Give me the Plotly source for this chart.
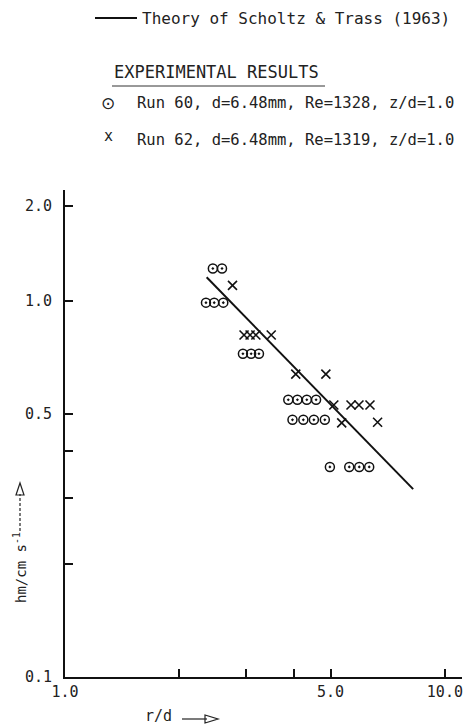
import plotly.graph_objects as go

# ---------------- data ----------------
run60_x = [2.45, 2.59,
           2.35, 2.47, 2.61,
           2.94, 3.09, 3.24,
           3.87, 4.09, 4.33, 4.58,
           3.97, 4.24, 4.52, 4.83,
           4.98, 5.60, 5.95, 6.32]
run60_y = [1.22, 1.22,
           0.99, 0.99, 0.99,
           0.724, 0.724, 0.724,
           0.546, 0.546, 0.546, 0.546,
           0.483, 0.483, 0.483, 0.483,
           0.362, 0.362, 0.362, 0.362]

run62_x = [2.76, 2.96, 3.07, 3.18, 3.49, 4.05, 4.86,
           5.10, 5.66, 5.94, 6.35, 5.35, 6.65]
run62_y = [1.10, 0.812, 0.812, 0.812, 0.812, 0.639, 0.639,
           0.529, 0.529, 0.529, 0.529, 0.474, 0.476]

theory_x = [2.36, 8.25]
theory_y = [1.156, 0.316]

x_tickvals = [1, 5, 10]
x_ticktext = ["1.0", "5.0", "10.0"]
x_minor_tickvals = [2, 3, 4]
y_tickvals = [1.79, 1.0, 0.5, 0.1]
y_ticktext = ["2.0", "1.0", "0.5", "0.1"]
y_minor_tickvals = [0.4, 0.3, 0.2]

# ---------------- layout helpers ----------------
W, H = 467, 727
L, R, T, B = 65, 462, 190, 677


def px(x):
    return (x - L) / (R - L)


def py(y):
    return (B - y) / (B - T)


MONO = "DejaVu Sans Mono"
INK = "#111111"

fig = go.Figure()
fig.add_trace(go.Scatter(x=theory_x, y=theory_y, mode="lines",
                         line=dict(color=INK, width=2), showlegend=False,
                         hoverinfo="skip"))
fig.add_trace(go.Scatter(x=run60_x, y=run60_y, mode="markers",
                         marker=dict(symbol="circle-open-dot", size=9,
                                     color=INK, line=dict(color=INK, width=1.5)),
                         showlegend=False))
fig.add_trace(go.Scatter(x=run62_x, y=run62_y, mode="markers",
                         marker=dict(symbol="x-thin-open", size=9,
                                     color=INK, line=dict(color=INK, width=1.6)),
                         showlegend=False))

axis_common = dict(type="log", showgrid=False, zeroline=False,
                   showline=True, linecolor=INK, linewidth=2,
                   ticks="inside", ticklen=8, tickwidth=1.5, tickcolor=INK,
                   tickfont=dict(family=MONO, size=15, color="#222222"),
                   mirror=False)

fig.update_xaxes(**axis_common, range=[0, 1.045],
                 tickmode="array", tickvals=x_tickvals, ticktext=x_ticktext,
                 minor=dict(tickmode="array", tickvals=x_minor_tickvals,
                            ticks="inside", ticklen=8, tickwidth=1.5,
                            tickcolor=INK, showgrid=False))
fig.update_yaxes(**axis_common, range=[-1, 0.2952], ticklabelstandoff=8,
                 tickmode="array", tickvals=y_tickvals, ticktext=y_ticktext,
                 minor=dict(tickmode="array", tickvals=y_minor_tickvals,
                            ticks="inside", ticklen=8, tickwidth=1.5,
                            tickcolor=INK, showgrid=False))

annotations = [
    dict(text="Theory of Scholtz & Trass (1963)", x=px(140), y=py(18),
         xanchor="left", yanchor="middle", font=dict(family=MONO, size=16)),
    dict(text="EXPERIMENTAL RESULTS", x=px(112), y=py(72),
         xanchor="left", yanchor="middle", font=dict(family=MONO, size=17)),
    dict(text="⊙", x=px(108), y=py(103), xanchor="center", yanchor="middle",
         font=dict(family="DejaVu Sans", size=17)),
    dict(text="Run 60, d=6.48mm, Re=1328, z/d=1.0", x=px(135), y=py(103),
         xanchor="left", yanchor="middle", font=dict(family=MONO, size=15.5)),
    dict(text="x", x=px(108), y=py(136), xanchor="center", yanchor="middle",
         font=dict(family=MONO, size=15)),
    dict(text="Run 62, d=6.48mm, Re=1319, z/d=1.0", x=px(135), y=py(140),
         xanchor="left", yanchor="middle", font=dict(family=MONO, size=15.5)),
    dict(text="hm/cm s<sup>-1</sup>", x=px(20), y=py(568), textangle=-90,
         xanchor="center", yanchor="middle", font=dict(family=MONO, size=14)),
    dict(text="r/d", x=px(158), y=py(716), xanchor="center", yanchor="middle",
         font=dict(family=MONO, size=15)),
]
for a in annotations:
    a.update(xref="paper", yref="paper", showarrow=False)
    a["font"].setdefault("color", "#222222")

shapes = [
    # legend line for theory
    dict(type="line", x0=px(95), x1=px(137), y0=py(18), y1=py(18),
         line=dict(color=INK, width=2)),
    # underline of heading
    dict(type="line", x0=px(112), x1=px(325), y0=py(86), y1=py(86),
         line=dict(color="#333333", width=1)),
    # y title dashed arrow
    dict(type="line", x0=px(20), x1=px(20), y0=py(531), y1=py(494),
         line=dict(color="#222222", width=1.2, dash="3px,2px")),
    dict(type="path",
         path=f"M {px(16)} {py(495)} L {px(24)} {py(495)} L {px(20)} {py(483)} Z",
         line=dict(color="#222222", width=1.2)),
    # x title arrow
    dict(type="line", x0=px(182), x1=px(207), y0=py(719), y1=py(719),
         line=dict(color="#222222", width=1.2)),
    dict(type="path",
         path=f"M {px(205)} {py(715)} L {px(205)} {py(723)} L {px(218)} {py(719)} Z",
         line=dict(color="#222222", width=1.2)),
]
for s in shapes:
    s.update(xref="paper", yref="paper")

fig.update_layout(width=W, height=H,
                  margin=dict(l=L, r=W - R, t=T, b=H - B, autoexpand=False),
                  paper_bgcolor="white", plot_bgcolor="white",
                  annotations=annotations, shapes=shapes, showlegend=False)

fig.write_html("out.html", config={"displayModeBar": False},
               post_script="document.body.style.margin='0';"
                           "document.body.style.overflow='hidden';")
